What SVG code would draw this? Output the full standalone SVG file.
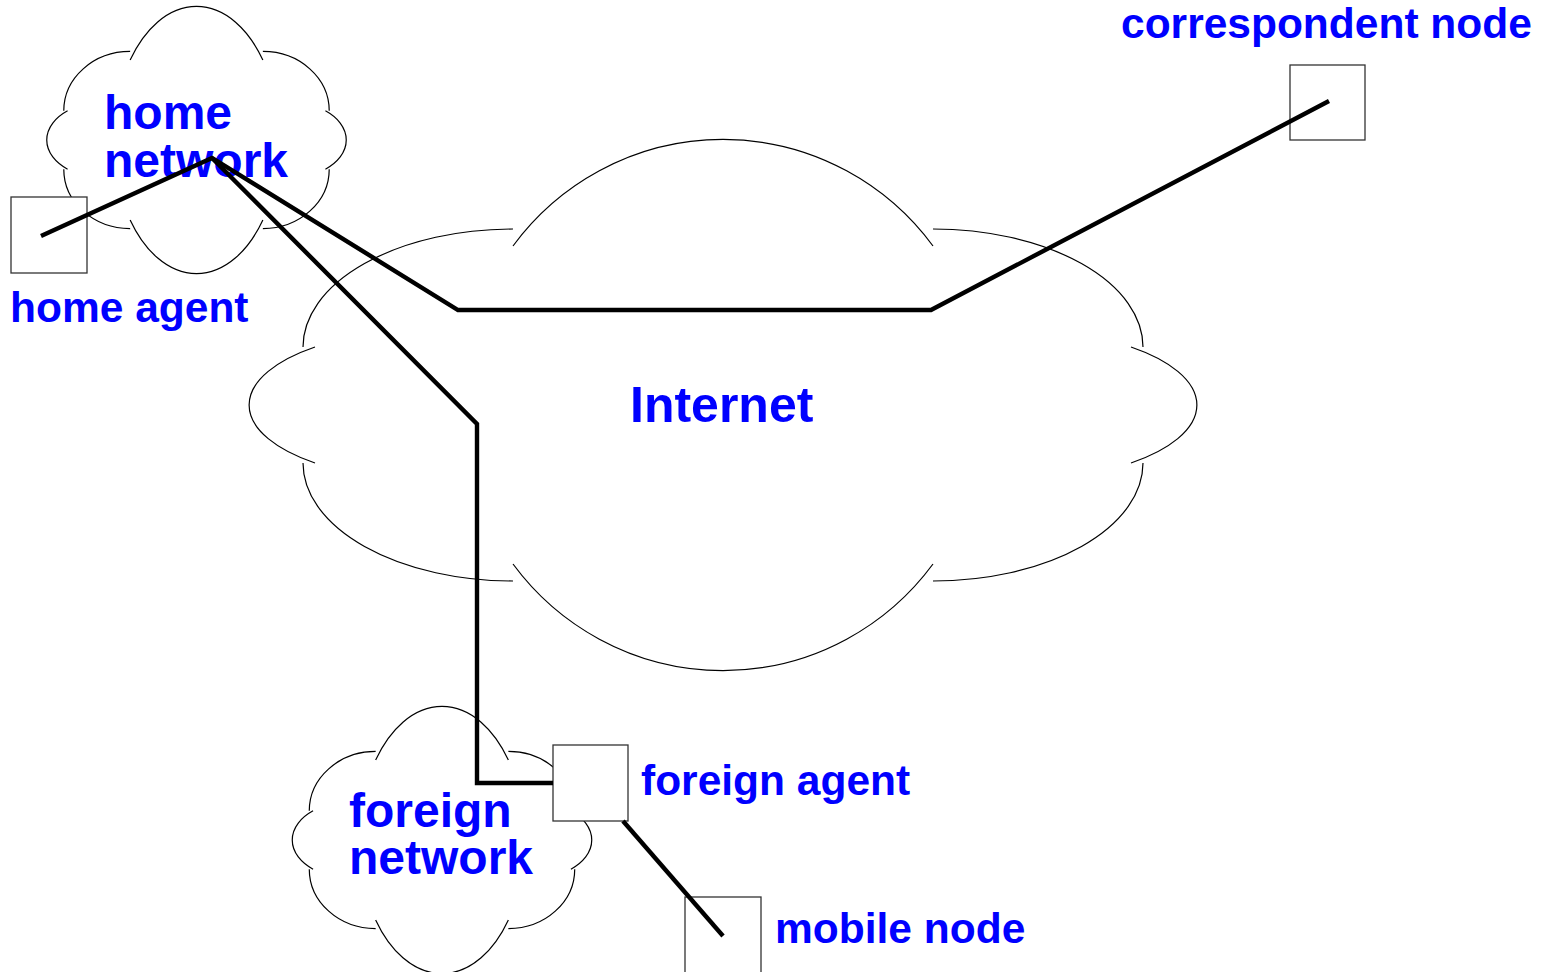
<svg xmlns="http://www.w3.org/2000/svg" xmlns:xlink="http://www.w3.org/1999/xlink" width="1554" height="972" viewBox="0 0 1554 972">
  <style>
    .cloud { fill: none; stroke: #000; stroke-width: 1.2; vector-effect: non-scaling-stroke; }
    .box { fill: #fff; stroke: #333; stroke-width: 1.3; }
    .label { font-family: "Liberation Sans", Arial, sans-serif; font-weight: bold; fill: #0000ff; }
    .big { font-size: 48px; }
    .small { font-size: 42.5px; }
    .inet { font-size: 50px; }
    .link { fill: none; stroke: #000; stroke-width: 4.4; stroke-linejoin: miter; stroke-linecap: butt; }
  </style>
  <defs>
    <!-- cloud outline built from separate arcs, centred on the origin -->
    <path id="cloud" class="cloud" d="
      M -210 -159 A 262 265 0 0 1 210 -159
      M -210 159 A 262 265 0 0 0 210 159
      M -420 -58 A 210 118 0 0 1 -210 -176
      M 210 -176 A 210 118 0 0 1 420 -58
      M -420 58 A 210 118 0 0 0 -210 176
      M 210 176 A 210 118 0 0 0 420 58
      M -408 -58 A 180 75 0 0 0 -408 58
      M 408 -58 A 180 75 0 0 1 408 58"/>
  </defs>

  <g id="internet">
    <use xlink:href="#cloud" href="#cloud" transform="translate(723,405)"/>
    <text class="label inet" x="630" y="422">Internet</text>
  </g>

  <g id="home-network">
    <use xlink:href="#cloud" href="#cloud" transform="translate(196.5,140) scale(0.316,0.503)"/>
    <text class="label big" x="104" y="129">home</text>
    <text class="label big" x="104" y="177">network</text>
  </g>

  <g id="foreign-network">
    <use xlink:href="#cloud" href="#cloud" transform="translate(442,840) scale(0.316,0.503)"/>
    <text class="label big" x="349" y="827">foreign</text>
    <text class="label big" x="349" y="874">network</text>
  </g>

  <g id="home-agent">
    <rect class="box" x="11" y="197" width="76" height="76"/>
    <text class="label small" x="10" y="322">home agent</text>
  </g>

  <g id="correspondent-node">
    <rect class="box" x="1290" y="65" width="75" height="75"/>
    <text class="label small" x="1121" y="38">correspondent node</text>
  </g>

  <g id="foreign-agent">
    <rect class="box" x="553" y="745" width="75" height="76"/>
    <text class="label small" x="641" y="795">foreign agent</text>
  </g>

  <g id="mobile-node">
    <rect class="box" x="685" y="897" width="76" height="76"/>
    <text class="label small" x="775" y="943">mobile node</text>
  </g>

  <g id="connectors">
    <path class="link" d="M 41 236 L 212 158 L 458 310 L 931 310 L 1329 101"/>
    <path class="link" d="M 212 158 L 477 424 L 477 783 L 553 783"/>
    <path class="link" d="M 623 821 L 723 936"/>
  </g>
</svg>
